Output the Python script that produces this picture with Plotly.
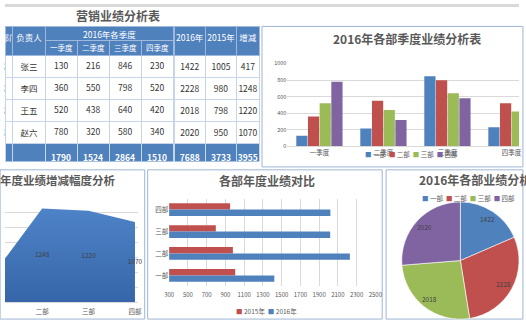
import math
import plotly.graph_objects as go

W, H = 526, 326
FONT = "Noto Sans CJK SC, Noto Sans, sans-serif"

# ---- data -------------------------------------------------------------
depts = ["一部", "二部", "三部", "四部"]
owners = ["张三", "李四", "王五", "赵六"]
quarters = ["一季度", "二季度", "三季度", "四季度"]
q1 = [130, 360, 520, 780]
q2 = [216, 550, 438, 320]
q3 = [846, 798, 640, 580]
q4 = [230, 520, 420, 340]
sales_2015 = [1005, 980, 798, 950]
year_names = ["2015年", "2016年"]

quarter_cols = [q1, q2, q3, q4]
sales_2016 = [sum(q[i] for q in quarter_cols) for i in range(len(depts))]
change = [a - b for a, b in zip(sales_2016, sales_2015)]

dept_colors = ["#4F81BD", "#C0504D", "#9BBB59", "#8064A2"]
year_colors = ["#C0504D", "#4F81BD"]
BLUE = "#4F81BD"
GRID = "#D9D9D9"
TXT = "#595959"
BORDER = "#9DB5D5"


def fx(p):
    return p / W


def fy(p):
    return 1 - p / H


def bold(v):
    return f"<b>{v}</b>"


fig = go.Figure()
annotations = []


def label(text, x, y, size, color=TXT, xanchor="center"):
    annotations.append(dict(text=text, x=fx(x), y=fy(y), xref="paper", yref="paper",
                            xanchor=xanchor, yanchor="middle", showarrow=False,
                            font=dict(size=size, color=color, family=FONT)))


# ---- table ---------------------------------------------------------------
col_edges = [0, 8, 41, 74, 107, 140, 173, 205, 237, 260]
widths = [b - a for a, b in zip(col_edges[:-1], col_edges[1:])]
n = len(depts)
TOP, MID, HDR, ROW = 23, 37.5, 29, 22
BOTTOM = TOP + HDR + ROW * (n + 1)
body_fill = [["white"] * n + [BLUE]]
body_font = [["#333333"] * n + ["white"]]
HDR_LINE = "#9FB9DC"
CELL_LINE = "#C6D5EA"

# 部门 / 负责人
fig.add_trace(go.Table(
    domain=dict(x=[0, fx(col_edges[2])], y=[fy(BOTTOM), fy(TOP)]),
    columnwidth=widths[0:2],
    header=dict(values=["部门", "负责人"], height=HDR, fill_color=BLUE,
                line_color=HDR_LINE, align="center",
                font=dict(color="white", size=8.5, family=FONT)),
    cells=dict(values=[depts + [bold("合计")], owners + [""]], height=ROW,
               fill_color=body_fill, line_color=CELL_LINE,
               align=["right", "center"],
               font=dict(color=body_font, size=8.5, family=FONT)),
))

# merged header over the quarter columns
fig.add_trace(go.Table(
    domain=dict(x=[fx(col_edges[2]), fx(col_edges[6])], y=[fy(MID), fy(TOP)]),
    header=dict(values=[""], height=MID - TOP, fill_color=BLUE, line_color=HDR_LINE),
))

# quarter columns
fig.add_trace(go.Table(
    domain=dict(x=[fx(col_edges[2]), fx(col_edges[6])], y=[fy(BOTTOM), fy(MID)]),
    columnwidth=widths[2:6],
    header=dict(values=[""] * 4, height=TOP + HDR - MID, fill_color=BLUE,
                line_color=HDR_LINE),
    cells=dict(values=[q + [bold(sum(q))] for q in quarter_cols], height=ROW,
               fill_color=body_fill, line_color=CELL_LINE, align="center",
               font=dict(color=body_font, size=8.5, family=FONT)),
))

# yearly totals and change
fig.add_trace(go.Table(
    domain=dict(x=[fx(col_edges[6]), fx(col_edges[9])], y=[fy(BOTTOM), fy(TOP)]),
    columnwidth=widths[6:9],
    header=dict(values=["2016年", "2015年", "增减"], height=HDR, fill_color=BLUE,
                line_color=HDR_LINE, align="center",
                font=dict(color="white", size=8.5, family=FONT)),
    cells=dict(values=[sales_2016 + [bold(sum(sales_2016))],
                       sales_2015 + [bold(sum(sales_2015))],
                       change + [bold(sum(change))]],
               height=ROW, fill_color=body_fill, line_color=CELL_LINE,
               align="center", font=dict(color=body_font, size=8.5, family=FONT)),
))

label("2016年各季度", (col_edges[2] + col_edges[6]) / 2, (TOP + MID) / 2, 8.5, "white")
for i, q in enumerate(quarters):
    label(q, (col_edges[2 + i] + col_edges[3 + i]) / 2, (MID + TOP + HDR) / 2, 7.5, "white")

# ---- chart A: quarterly sales by department --------------------------------
for i, d in enumerate(depts):
    fig.add_trace(go.Bar(x=quarters, y=[q[i] for q in quarter_cols], name=d,
                         marker=dict(color=dept_colors[i], line_width=0),
                         xaxis="x", yaxis="y", showlegend=False))

# ---- chart C: 2015 vs 2016 per department ----------------------------------
BW = 0.29
fig.add_trace(go.Bar(y=depts, x=sales_2015, orientation="h", name=year_names[0],
                     offset=0, width=BW, marker=dict(color=year_colors[0], line_width=0),
                     xaxis="x2", yaxis="y2", showlegend=False))
fig.add_trace(go.Bar(y=depts, x=sales_2016, orientation="h", name=year_names[1],
                     offset=-BW, width=BW, marker=dict(color=year_colors[1], line_width=0),
                     xaxis="x2", yaxis="y2", showlegend=False))

# ---- chart B: change per department (area) ---------------------------------
pos = list(range(n))
fig.add_trace(go.Scatter(
    x=pos, y=change, mode="lines", fill="tozeroy", line=dict(width=0, color=BLUE),
    fillgradient=dict(type="vertical", start=0, stop=1300,
                      colorscale=[[0, "#3565A8"], [1, "#4F84C8"]]),
    xaxis="x3", yaxis="y3", showlegend=False, hoverinfo="skip"))
fig.add_trace(go.Scatter(
    x=pos, y=[v / 2 for v in change], mode="text", text=[str(v) for v in change],
    textfont=dict(size=6.5, color="#404040", family=FONT), cliponaxis=False,
    xaxis="x3", yaxis="y3", showlegend=False))

# ---- chart D: 2016 share per department ------------------------------------
PIE_L, PIE_T, PIE_B = 406, 202, 324
fig.add_trace(go.Pie(
    labels=depts, values=sales_2016, sort=False, direction="clockwise", rotation=0,
    marker=dict(colors=dept_colors, line=dict(color="white", width=0.6)),
    textinfo="none", domain=dict(x=[fx(PIE_L), 1], y=[fy(PIE_B), fy(PIE_T)]),
    showlegend=False))

# slice values placed near the rim, at each slice's middle angle
r = min(W - PIE_L, PIE_B - PIE_T) / 2
cx, cy = (PIE_L + W) / 2, (PIE_T + PIE_B) / 2
total = sum(sales_2016)
acc = 0
for v in sales_2016:
    mid = (acc + v / 2) / total * 2 * math.pi
    acc += v
    label(str(v), cx + 0.84 * r * math.sin(mid), cy - 0.84 * r * math.cos(mid), 6.5, "#404040")

# ---- titles ------------------------------------------------------------------
label(bold("营销业绩分析表"), 116, 12, 12)
label(bold("2016年各部季度业绩分析表"), 411, 35, 12)
label(bold("各部年度业绩增减幅度分析"), 115, 180, 11.5, xanchor="right")
label(bold("各部年度业绩对比"), 268, 181, 12)
label(bold("2016年各部业绩分析图"), 422, 180, 12, xanchor="left")


# ---- compact legends ---------------------------------------------------------
def legend(names, colors, x, y):
    txt = "  ".join(f"<span style='color:{c}'>■</span> {nm}" for nm, c in zip(names, colors))
    label(txt, x, y, 6.5)


legend(depts, dept_colors, 416, 154)
legend(year_names, year_colors, 268, 315)
legend(depts, dept_colors, 474, 199)

# ---- panel frames ------------------------------------------------------------
shapes = [
    dict(type="rect", xref="paper", yref="paper", x0=0, x1=1, y0=fy(3), y1=1,
         fillcolor="#D9D9D9", line_width=0, layer="below"),
]
for x0, x1, y0, y1 in [(263, 530, 23, 167), (-5, 143, 170, 323),
                       (146, 386, 170, 323), (390, 530, 170, 323)]:
    shapes.append(dict(type="rect", xref="paper", yref="paper", x0=fx(x0), x1=fx(x1),
                       y0=fy(y1), y1=fy(y0), line=dict(color=BORDER, width=1),
                       fillcolor="rgba(0,0,0,0)", layer="below"))

tick = dict(size=6.5, color=TXT, family=FONT)
fig.update_layout(
    width=W, height=H, margin=dict(l=0, r=0, t=0, b=0),
    paper_bgcolor="white", plot_bgcolor="rgba(0,0,0,0)",
    font=dict(family=FONT, color=TXT),
    barmode="group", bargap=0.27, bargroupgap=0.04,
    annotations=annotations, shapes=shapes,
    xaxis=dict(domain=[fx(289), 1], range=[-0.5, 3.118], anchor="y",
               showgrid=False, showline=True, linecolor=GRID, ticks="",
               tickfont=tick),
    yaxis=dict(domain=[fy(146), fy(61)], range=[0, 1000], dtick=200, anchor="x",
               gridcolor=GRID, zeroline=False, ticks="", tickfont=dict(size=5.5, color=TXT)),
    xaxis2=dict(domain=[fx(168), fx(379)], range=[300, 2500], tick0=300, dtick=200,
                anchor="y2", gridcolor=GRID, zeroline=False, ticks="",
                ticklabelstandoff=4, tickfont=dict(size=6, color=TXT)),
    yaxis2=dict(domain=[fy(289.5), fy(199.5)], range=[-0.5, 3.5], anchor="x2",
                showgrid=False, ticks="", tickfont=tick),
    xaxis3=dict(domain=[0, fx(136)], range=[0.2, 3.063], anchor="y3",
                tickvals=pos, ticktext=depts, showgrid=False, ticks="",
                ticklabelstandoff=3, showline=True, linecolor=GRID, tickfont=tick),
    yaxis3=dict(domain=[fy(306), fy(198)], range=[0, 1400], dtick=200, anchor="x3",
                gridcolor=GRID, zeroline=False, showticklabels=False),
)

fig.write_html("out.html")
